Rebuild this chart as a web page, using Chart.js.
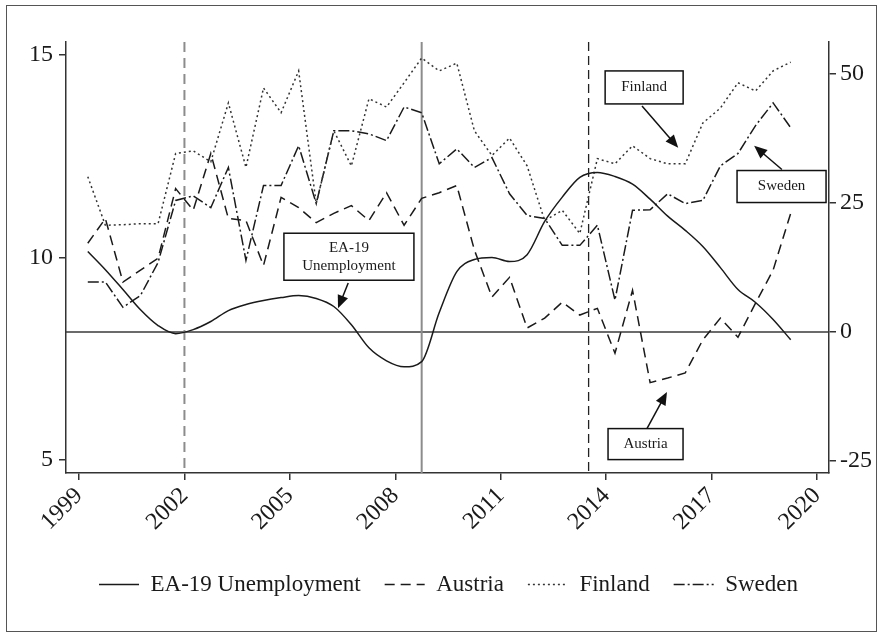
<!DOCTYPE html>
<html>
<head>
<meta charset="utf-8">
<script src="https://cdn.jsdelivr.net/npm/chart.js@4/dist/chart.umd.min.js"></script>
<style>
  html, body { margin: 0; padding: 0; background: #fff; }
</style>
</head>
<body>
<canvas id="chart" width="883" height="636"></canvas>
<script>
// half-year observations
const periods = [
  1999.25, 1999.75, 2000.25, 2000.75, 2001.25, 2001.75, 2002.25, 2002.75,
  2003.25, 2003.75, 2004.25, 2004.75, 2005.25, 2005.75, 2006.25, 2006.75,
  2007.25, 2007.75, 2008.25, 2008.75, 2009.25, 2009.75, 2010.25, 2010.75,
  2011.25, 2011.75, 2012.25, 2012.75, 2013.25, 2013.75, 2014.25, 2014.75,
  2015.25, 2015.75, 2016.25, 2016.75, 2017.25, 2017.75, 2018.25, 2018.75,
  2019.25
];

// left axis, %
const ea19 = [
  10.15, 9.70, 9.21, 8.71, 8.32, 8.12, 8.22, 8.42,
  8.69, 8.84, 8.94, 9.01, 9.06, 8.99, 8.79, 8.34,
  7.77, 7.45, 7.30, 7.43, 8.64, 9.65, 9.95, 10.00,
  9.90, 10.07, 10.89, 11.49, 11.98, 12.10, 12.00, 11.81,
  11.44, 11.02, 10.67, 10.27, 9.75, 9.21, 8.89, 8.47,
  7.97
];

// right axis
const austria = [
  17.2, 22.0, 9.7, 12.0, 14.3, 27.8, 23.6, 34.6,
  22.0, 21.6, 12.9, 26.1, 24.1, 21.2, 23.0, 24.5,
  21.6, 27.0, 20.7, 25.9, 27.0, 28.4, 15.9, 6.8,
  10.6, 0.8, 2.7, 5.8, 3.3, 4.6, -4.1, 8.1,
  -9.8, -8.9, -7.9, -1.5, 2.7, -1.0, 5.6, 12.0,
  23.0
];
const finland = [
  30.1, 20.7, 20.8, 21.0, 21.0, 34.6, 35.1, 33.0,
  44.4, 31.9, 47.3, 42.5, 50.6, 24.9, 39.0, 32.2,
  45.2, 43.6, 48.3, 53.1, 50.6, 52.1, 39.0, 34.2,
  37.6, 32.2, 21.6, 23.6, 19.1, 33.6, 32.6, 36.1,
  33.6, 32.6, 32.6, 40.5, 43.4, 48.3, 46.7, 50.6,
  52.3
];
const sweden = [
  9.7, 9.7, 4.8, 7.1, 13.5, 25.5, 26.4, 24.1,
  31.9, 13.9, 28.4, 28.4, 36.1, 24.9, 39.0, 39.0,
  38.4, 37.1, 43.6, 42.5, 32.6, 35.5, 31.9, 33.8,
  26.8, 22.6, 22.0, 16.8, 16.8, 20.7, 6.2, 23.6,
  23.7, 26.8, 24.9, 25.5, 32.2, 34.6, 40.0, 44.4,
  39.6
];

const xTicks = [1999, 2002, 2005, 2008, 2011, 2014, 2017, 2020];
const leftTicks = [5, 10, 15];
const rightTicks = [-25, 0, 25, 50];

const FONT = "'Liberation Serif', 'DejaVu Serif', serif";
const INK = "#1a1a1a";

// vertical markers
const events = [
  { year: 2002, color: "#8c8c8c", width: 2, dash: [10, 6] },
  { year: 2008.75, color: "#8c8c8c", width: 2, dash: [] },
  { year: 2013.5, color: "#222", width: 1.3, dash: [9, 5] },
];

// labelled boxes (x in years, y in right-axis units)
const callouts = [
  { text: ["EA-19", "Unemployment"], x: 2006.68, y: 14.6, w: 130, h: 47, from: [2006.66, 9.5], to: [2006.37, 4.6] },
  { text: ["Finland"], x: 2015.08, y: 47.4, w: 78, h: 33, from: [2015.02, 43.8], to: [2016.05, 35.7] },
  { text: ["Sweden"], x: 2018.99, y: 28.2, w: 89, h: 32, from: [2019.0, 31.5], to: [2018.21, 36.1] },
  { text: ["Austria"], x: 2015.12, y: -21.7, w: 75, h: 31, from: [2015.16, -18.7], to: [2015.73, -11.6] },
];

const pts = (arr) => periods.map((p, i) => ({ x: p, y: arr[i] }));

const markers = {
  id: "markers",
  beforeDatasetsDraw(chart) {
    const { ctx, chartArea: a, scales } = chart;
    ctx.save();
    const y0 = scales.y1.getPixelForValue(0);
    ctx.strokeStyle = "#3a3a3a";
    ctx.lineWidth = 1.5;
    ctx.beginPath();
    ctx.moveTo(a.left, y0);
    ctx.lineTo(a.right, y0);
    ctx.stroke();
    events.forEach((ev) => {
      const x = scales.x.getPixelForValue(ev.year);
      ctx.strokeStyle = ev.color;
      ctx.lineWidth = ev.width;
      ctx.setLineDash(ev.dash);
      ctx.beginPath();
      ctx.moveTo(x, a.top);
      ctx.lineTo(x, a.bottom);
      ctx.stroke();
    });
    ctx.restore();
  },
  afterDatasetsDraw(chart) {
    const { ctx, scales } = chart;
    const sx = scales.x, sy = scales.y1;
    ctx.save();
    callouts.forEach((c) => {
      const cx = sx.getPixelForValue(c.x);
      const cy = sy.getPixelForValue(c.y);
      // arrow
      const x1 = sx.getPixelForValue(c.from[0]), y1 = sy.getPixelForValue(c.from[1]);
      const x2 = sx.getPixelForValue(c.to[0]), y2 = sy.getPixelForValue(c.to[1]);
      const ang = Math.atan2(y2 - y1, x2 - x1);
      ctx.strokeStyle = "#111";
      ctx.fillStyle = "#111";
      ctx.lineWidth = 1.5;
      ctx.beginPath();
      ctx.moveTo(x1, y1);
      ctx.lineTo(x2 - 8 * Math.cos(ang), y2 - 8 * Math.sin(ang));
      ctx.stroke();
      ctx.beginPath();
      ctx.moveTo(x2, y2);
      ctx.lineTo(x2 - 13 * Math.cos(ang) + 5.5 * Math.sin(ang), y2 - 13 * Math.sin(ang) - 5.5 * Math.cos(ang));
      ctx.lineTo(x2 - 13 * Math.cos(ang) - 5.5 * Math.sin(ang), y2 - 13 * Math.sin(ang) + 5.5 * Math.cos(ang));
      ctx.closePath();
      ctx.fill();
      // box
      ctx.fillStyle = "#fff";
      ctx.fillRect(cx - c.w / 2, cy - c.h / 2, c.w, c.h);
      ctx.strokeStyle = "#111";
      ctx.lineWidth = 1.5;
      ctx.strokeRect(cx - c.w / 2, cy - c.h / 2, c.w, c.h);
      ctx.fillStyle = INK;
      ctx.font = "15px " + FONT;
      ctx.textAlign = "center";
      ctx.textBaseline = "middle";
      const lh = 18;
      c.text.forEach((t, i) => {
        ctx.fillText(t, cx, cy + (i - (c.text.length - 1) / 2) * lh);
      });
    });
    ctx.restore();
  },
  afterDraw(chart) {
    const { ctx } = chart;
    ctx.save();
    ctx.strokeStyle = "#555";
    ctx.lineWidth = 1;
    ctx.strokeRect(6.5, 5.5, 870, 626);
    ctx.restore();
  },
};

const tickFont = { family: FONT, size: 24 };
const axisGrid = { drawOnChartArea: false, drawTicks: true, tickLength: 7, color: "#333", lineWidth: 1.5 };
const axisBorder = { display: true, color: "#333", width: 1.5 };

new Chart(document.getElementById("chart"), {
  type: "line",
  data: {
    datasets: [
      { label: "EA-19 Unemployment", data: pts(ea19), yAxisID: "y", borderColor: INK, backgroundColor: INK, borderWidth: 1.5, cubicInterpolationMode: "monotone" },
      { label: "Austria", data: pts(austria), yAxisID: "y1", borderColor: INK, backgroundColor: "#fff", borderWidth: 1.5, borderDash: [10, 6] },
      { label: "Finland", data: pts(finland), yAxisID: "y1", borderColor: "#333", backgroundColor: "#fff", borderWidth: 1.5, borderDash: [2, 3] },
      { label: "Sweden", data: pts(sweden), yAxisID: "y1", borderColor: INK, backgroundColor: "#fff", borderWidth: 1.5, borderDash: [11, 3, 2, 3] },
    ],
  },
  options: {
    responsive: false,
    animation: false,
    elements: { point: { radius: 0 }, line: { tension: 0 } },
    layout: { padding: { top: 42, left: 14, right: 0, bottom: 30 } },
    plugins: {
      tooltip: { enabled: false },
      legend: {
        position: "bottom",
        labels: {
          usePointStyle: true,
          pointStyle: "line",
          pointStyleWidth: 40,
          padding: 24,
          color: INK,
          font: { family: FONT, size: 23 },
          generateLabels: (chart) => {
            const items = Chart.defaults.plugins.legend.labels.generateLabels(chart);
            items.forEach((it) => {
              const ds = chart.data.datasets[it.datasetIndex];
              it.lineDash = ds.borderDash || [];
              it.lineWidth = ds.borderWidth;
              it.strokeStyle = ds.borderColor;
            });
            return items;
          },
        },
      },
    },
    scales: {
      x: {
        type: "linear",
        min: 1998.63,
        max: 2020.34,
        afterBuildTicks: (s) => { s.ticks = xTicks.map((v) => ({ value: v })); },
        afterFit: (s) => { s.height = 76; },
        ticks: { callback: (v) => String(v), minRotation: 45, maxRotation: 45, autoSkip: false, padding: 2, color: INK, font: tickFont },
        grid: axisGrid,
        border: axisBorder,
      },
      y: {
        position: "left",
        min: 4.68,
        max: 15.32,
        afterBuildTicks: (s) => { s.ticks = leftTicks.map((v) => ({ value: v })); },
        afterFit: (s) => { s.width = 52; },
        ticks: { padding: 6, color: INK, font: tickFont },
        grid: axisGrid,
        border: axisBorder,
      },
      y1: {
        position: "right",
        min: -27.3,
        max: 56.2,
        afterBuildTicks: (s) => { s.ticks = rightTicks.map((v) => ({ value: v })); },
        afterFit: (s) => { s.width = 54; },
        ticks: { padding: 4, color: INK, font: tickFont },
        grid: axisGrid,
        border: axisBorder,
      },
    },
  },
  plugins: [markers],
});
</script>
</body>
</html>
